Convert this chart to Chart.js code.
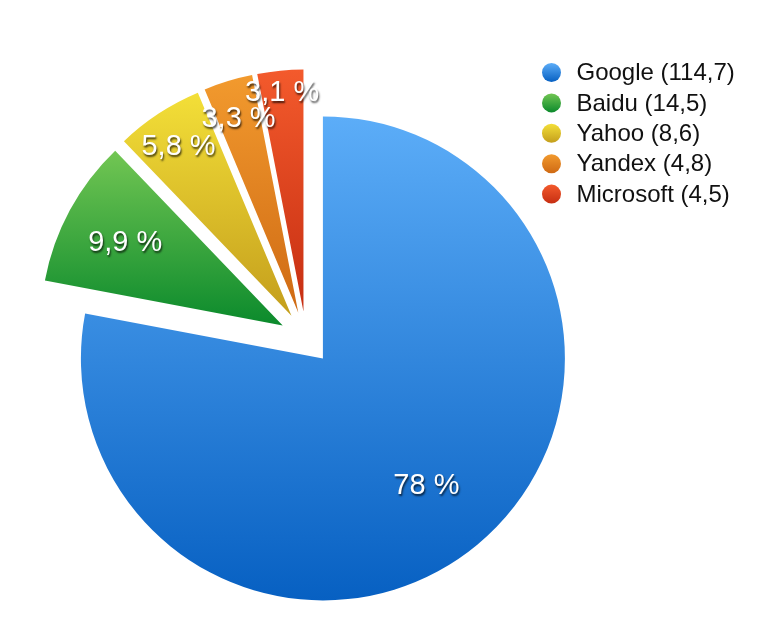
<!DOCTYPE html>
<html>
<head>
<meta charset="utf-8">
<script src="https://cdn.jsdelivr.net/npm/chart.js@4/dist/chart.umd.min.js"></script>
<style>
  html, body { margin: 0; padding: 0; background: #fff; }
  #area { width: 778px; height: 636px; }
</style>
</head>
<body>
<div id="area"><canvas id="grafico-pizza"></canvas></div>
<script>
const categorias = ["Google", "Baidu", "Yahoo", "Yandex", "Microsoft"];
const valores = [114.7, 14.5, 8.6, 4.8, 4.5];

// cores em degradê (topo -> base) de cada fatia
const coresTopo = ["#5cadf8", "#72c653", "#f3df38", "#f29a2e", "#f35a2c"];
const coresBase = ["#0760c2", "#0b8a2c", "#c49e1c", "#cf6a14", "#c62e12"];

const FONTE = "'Liberation Sans', Arial, Helvetica, sans-serif";
const EXPLOSAO = 26.5;
const RAIO = 242;
// distância do rótulo ao vértice da fatia, em fração do raio
const posRotulo = [0.67, 0.74, 0.85, 0.85, 0.92];

const total = valores.reduce((a, b) => a + b, 0);

function comVirgula(n) {
  return String(n).replace(".", ",");
}

function limitesY(arc) {
  const y = arc.y;
  const r = arc.outerRadius;
  let min = y;
  let max = y;
  [arc.startAngle, arc.endAngle].forEach((a) => {
    const py = y + Math.sin(a) * r;
    min = Math.min(min, py);
    max = Math.max(max, py);
  });
  [-Math.PI / 2, Math.PI / 2, 3 * Math.PI / 2, 5 * Math.PI / 2].forEach((a) => {
    if (a >= arc.startAngle && a <= arc.endAngle) {
      const py = y + Math.sin(a) * r;
      min = Math.min(min, py);
      max = Math.max(max, py);
    }
  });
  return [min, max];
}

const explodirFatias = {
  id: "explodirFatias",
  beforeDatasetDraw(chart, args) {
    const ctx = chart.ctx;
    args.meta.data.forEach((arc, i) => {
      const meio = (arc.startAngle + arc.endAngle) / 2;
      const lim = limitesY(arc);
      const grad = ctx.createLinearGradient(0, lim[0], 0, lim[1]);
      grad.addColorStop(0, coresTopo[i]);
      grad.addColorStop(1, coresBase[i]);
      const original = arc.options;
      arc.options = Object.assign({}, original, { backgroundColor: grad, borderWidth: 0 });
      ctx.save();
      ctx.translate(Math.cos(meio) * EXPLOSAO, Math.sin(meio) * EXPLOSAO);
      arc.draw(ctx);
      ctx.restore();
      arc.options = original;
    });
    return false;
  }
};

const rotulosPercentuais = {
  id: "rotulosPercentuais",
  afterDatasetsDraw(chart) {
    const ctx = chart.ctx;
    const meta = chart.getDatasetMeta(0);
    ctx.save();
    ctx.font = "29px " + FONTE;
    ctx.textAlign = "center";
    ctx.textBaseline = "middle";
    ctx.fillStyle = "#ffffff";
    ctx.shadowColor = "rgba(0, 0, 0, 0.7)";
    ctx.shadowOffsetX = 1;
    ctx.shadowOffsetY = 2;
    ctx.shadowBlur = 2;
    meta.data.forEach((arc, i) => {
      const meio = (arc.startAngle + arc.endAngle) / 2;
      const d = EXPLOSAO + posRotulo[i] * arc.outerRadius;
      const x = arc.x + Math.cos(meio) * d;
      const y = arc.y + Math.sin(meio) * d;
      const pct = (valores[i] / total * 100).toPrecision(2);
      ctx.fillText(comVirgula(pct) + " %", x, y + 3);
    });
    ctx.restore();
  }
};

const legendaLateral = {
  id: "legendaLateral",
  afterDraw(chart) {
    const ctx = chart.ctx;
    ctx.save();
    ctx.font = "24px " + FONTE;
    ctx.textAlign = "left";
    ctx.textBaseline = "middle";
    categorias.forEach((nome, i) => {
      const y = 72.5 + i * 30.4;
      const grad = ctx.createLinearGradient(0, y - 9.5, 0, y + 9.5);
      grad.addColorStop(0, coresTopo[i]);
      grad.addColorStop(1, coresBase[i]);
      ctx.fillStyle = grad;
      ctx.beginPath();
      ctx.arc(551.5, y, 9.5, 0, Math.PI * 2);
      ctx.fill();
      ctx.fillStyle = "#111111";
      ctx.fillText(nome + " (" + comVirgula(valores[i]) + ")", 576.5, y + 1);
    });
    ctx.restore();
  }
};

const canvas = document.getElementById("grafico-pizza");

new Chart(canvas, {
  type: "pie",
  data: {
    labels: categorias,
    datasets: [
      {
        data: valores,
        backgroundColor: coresBase,
        borderWidth: 0
      }
    ]
  },
  options: {
    responsive: true,
    maintainAspectRatio: false,
    animation: false,
    radius: RAIO,
    layout: {
      padding: { left: 0, right: 166, top: 40, bottom: 0 }
    },
    plugins: {
      legend: { display: false },
      tooltip: { enabled: false }
    }
  },
  plugins: [explodirFatias, rotulosPercentuais, legendaLateral]
});
</script>
</body>
</html>
